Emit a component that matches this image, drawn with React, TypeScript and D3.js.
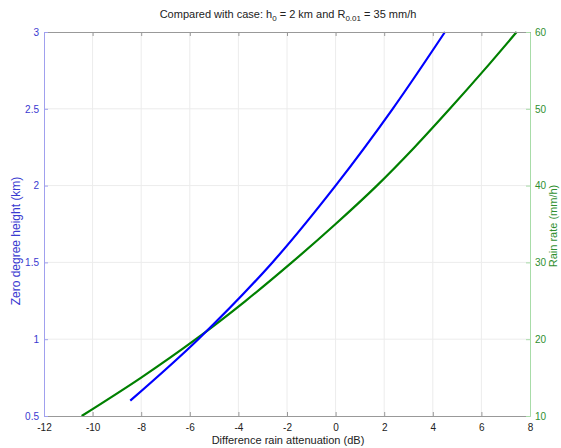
import * as d3 from "d3";
import { useRef, useEffect } from "react";

// zero degree height (km) vs difference rain attenuation (dB)
const heightKm = [0.6, 1.0, 1.5, 2.0, 2.5, 3.0];
const heightDiff = [-8.45, -5.65, -2.6, 0, 2.35, 4.5];

// rain rate (mm/h) vs difference rain attenuation (dB)
const rainRate = [10, 15, 20, 25, 30, 35, 40, 45, 50, 55, 60];
const rainDiff = [-10.45, -8.0, -5.75, -3.7, -1.8, 0, 1.7, 3.25, 4.7, 6.1, 7.45];

const xTicks = [-12, -10, -8, -6, -4, -2, 0, 2, 4, 6, 8];
const leftTicks = [0.5, 1, 1.5, 2, 2.5, 3];
const rightTicks = [10, 20, 30, 40, 50, 60];

const W = 561;
const H = 448;
const left = 44;
const right = 530;
const top = 32;
const bottom = 416;

const BLUE = "#0000ff";
const GREEN = "#008000";
const FONT = "Liberation Sans, Arial, sans-serif";

export default function App() {
  const svgRef = useRef<SVGSVGElement | null>(null);

  const x = d3.scaleLinear().domain([-12, 8]).range([left, right]);
  const yL = d3.scaleLinear().domain([0.5, 3]).range([bottom, top]);
  const yR = d3.scaleLinear().domain([10, 60]).range([bottom, top]);

  const blueLine = d3
    .line<number>()
    .x((_, i) => x(heightDiff[i]))
    .y((d) => yL(d))
    .curve(d3.curveCatmullRom);

  const greenLine = d3
    .line<number>()
    .x((_, i) => x(rainDiff[i]))
    .y((d) => yR(d))
    .curve(d3.curveCatmullRom);

  useEffect(() => {
    if (!svgRef.current) return;
    const svg = d3.select(svgRef.current);
    const fmt = (d: d3.NumberValue) => String(d);

    const style = (g: d3.Selection<SVGGElement, unknown, null, undefined>, col: string, lineCol: string) => {
      g.attr("font-family", FONT).attr("font-size", 10);
      g.select(".domain").attr("stroke", lineCol);
      g.selectAll(".tick line").attr("stroke", lineCol);
      g.selectAll(".tick text").attr("fill", col);
    };

    svg
      .select<SVGGElement>(".x-axis")
      .call(d3.axisBottom(x).tickValues(xTicks).tickFormat(fmt).tickSizeInner(-4).tickSizeOuter(0).tickPadding(8))
      .call((g) => style(g, "#222", "#999"));
    svg
      .select<SVGGElement>(".x-axis-top")
      .call(d3.axisTop(x).tickValues(xTicks).tickSizeInner(-4).tickSizeOuter(0).tickFormat(() => ""))
      .call((g) => style(g, "#222", "#999"));
    svg
      .select<SVGGElement>(".y-axis")
      .call(d3.axisLeft(yL).tickValues(leftTicks).tickFormat(fmt).tickSizeInner(-4).tickSizeOuter(0).tickPadding(5))
      .call((g) => style(g, "#3a3ad0", "#a0a0ee"));
    svg
      .select<SVGGElement>(".y-axis-right")
      .call(d3.axisRight(yR).tickValues(rightTicks).tickFormat(fmt).tickSizeInner(-4).tickSizeOuter(0).tickPadding(5))
      .call((g) => style(g, "#2f8f2f", "#a8dca8"));
  }, []);

  return (
    <svg
      ref={svgRef}
      width={W}
      height={H}
      style={{ position: "absolute", left: 0, top: 0, background: "#fff" }}
    >
      <rect x={0} y={0} width={W} height={H} fill="#fff" />
      <g stroke="#ececec" strokeWidth={1}>
        {xTicks.slice(1, -1).map((t) => (
          <line key={"gx" + t} x1={x(t)} x2={x(t)} y1={top} y2={bottom} />
        ))}
        {leftTicks.slice(1, -1).map((t) => (
          <line key={"gy" + t} x1={left} x2={right} y1={yL(t)} y2={yL(t)} />
        ))}
      </g>

      <path d={greenLine(rainRate) || ""} fill="none" stroke={GREEN} strokeWidth={2.2} />
      <path d={blueLine(heightKm) || ""} fill="none" stroke={BLUE} strokeWidth={2.2} />

      <g className="x-axis" transform={`translate(0,${bottom})`} />
      <g className="x-axis-top" transform={`translate(0,${top})`} />
      <g className="y-axis" transform={`translate(${left},0)`} />
      <g className="y-axis-right" transform={`translate(${right},0)`} />

      <text x={288} y={18} textAnchor="middle" fontFamily={FONT} fontSize={11} fill="#222">
        Compared with case: h
        <tspan fontSize={8} dy={3}>0</tspan>
        <tspan dy={-3}> = 2 km and R</tspan>
        <tspan fontSize={8} dy={3}>0.01</tspan>
        <tspan dy={-3}> = 35 mm/h</tspan>
      </text>

      <text x={288} y={444} textAnchor="middle" fontFamily={FONT} fontSize={11} fill="#222">
        Difference rain attenuation (dB)
      </text>

      <text
        transform="translate(20,241) rotate(-90)"
        textAnchor="middle"
        fontFamily={FONT}
        fontSize={12}
        fill="#3a3ad0"
      >
        Zero degree height (km)
      </text>

      <text
        transform="translate(557,226) rotate(-90)"
        textAnchor="middle"
        fontFamily={FONT}
        fontSize={11}
        fill="#2f8f2f"
      >
        Rain rate (mm/h)
      </text>
    </svg>
  );
}
